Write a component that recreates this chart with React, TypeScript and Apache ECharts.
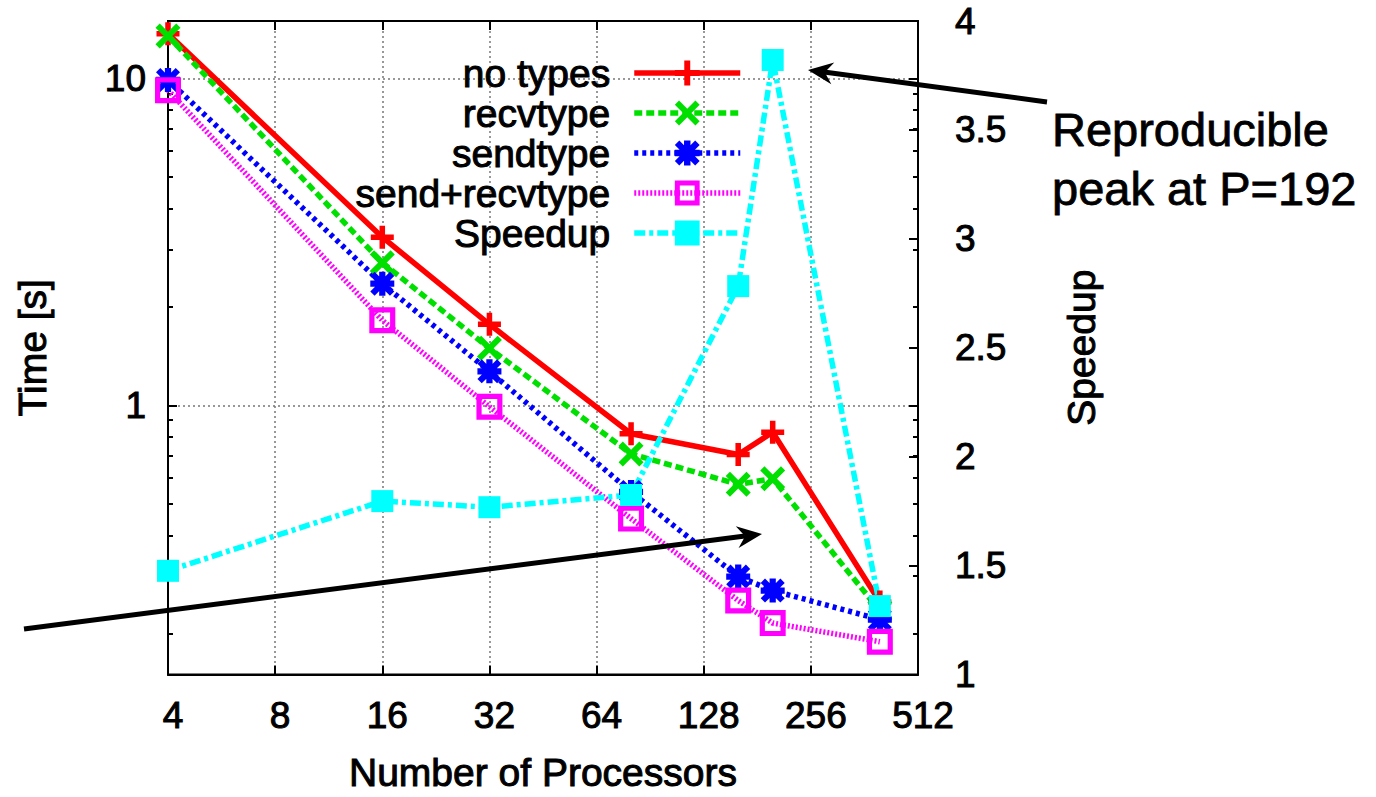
import React, { useEffect, useRef } from "react";
import * as echarts from "echarts";

// ---- data ----
const processors = [4, 16, 32, 80, 160, 200, 400];
const noTypes = [13.7, 3.27, 1.77, 0.818, 0.707, 0.827, 0.25];
const recvType = [13.5, 2.73, 1.495, 0.71, 0.573, 0.596, 0.235];
const sendType = [9.9, 2.355, 1.27, 0.543, 0.299, 0.271, 0.221];
const sendRecvType = [9.21, 1.82, 0.99, 0.45, 0.2526, 0.2155, 0.189];
const speedup = [1.476, 1.796, 1.768, 1.824, 2.783, 3.821, 1.314];

const seriesNames = ["no types", "recvtype", "sendtype", "send+recvtype", "Speedup"];
const timeRange = [0.15, 15];
const timeMajorTicks = [1, 10];
const timeMinorTicks = [0.2, 0.3, 0.4, 0.5, 0.6, 0.7, 0.8, 0.9, 2, 3, 4, 5, 6, 7, 8, 9];
const processorRange = [4, 512];
const speedupRange = [1, 4];
const speedupStep = 0.5;

const FONT = "Liberation Sans";

const SYM_PLUS = "path://M38,0 H62 V38 H100 V62 H62 V100 H38 V62 H0 V38 H38 Z";
const SYM_CROSS =
  "path://M0,17 L17,0 L50,33 L83,0 L100,17 L67,50 L100,83 L83,100 L50,67 L17,100 L0,83 L33,50 Z";
const SYM_STAR =
  "path://M37,0 H63 V37 H100 V63 H63 V100 H37 V63 H0 V37 H37 Z M0,18 L18,0 L50,32 L82,0 L100,18 L68,50 L100,82 L82,100 L50,68 L18,100 L0,82 L32,50 Z";
const SYM_BOX = "path://M0,0 H100 V100 H0 Z M20,20 V80 H80 V20 Z";

const lg = (v: number) => Math.log10(v);

export default function App() {
  const ref = useRef<HTMLDivElement>(null);

  useEffect(() => {
    if (!ref.current) return;
    const chart = echarts.init(ref.current, undefined, { renderer: "svg" });

    const black = { color: "#000", width: 2 };
    const dotted = { color: "#777", width: 1.5, type: [2, 3] as number[] };
    const heavy = { textBorderColor: "#000", textBorderWidth: 1 };
    const LW = 5.5;

    const timeSeries = (
      name: string,
      color: string,
      values: number[],
      symbol: string,
      symbolSize: number,
      dash: any
    ) => ({
      name,
      type: "line",
      xAxisIndex: 0,
      yAxisIndex: 0,
      data: processors.map((p, i) => [p, lg(values[i])]),
      symbol,
      symbolSize,
      showAllSymbol: true,
      clip: false,
      lineStyle: { color, width: LW, type: dash },
      itemStyle: { color, borderWidth: 0 },
      emphasis: { disabled: true },
      silent: true,
    });

    const option: any = {
      animation: false,
      backgroundColor: "#fff",
      textStyle: { fontFamily: FONT },
      grid: {
        left: 168,
        right: 458,
        top: 21,
        bottom: 120,
        show: true,
        borderColor: "#000",
        borderWidth: 2,
        backgroundColor: "transparent",
      },
      legend: {
        orient: "vertical",
        align: "right",
        right: 628,
        top: 48,
        itemWidth: 106,
        itemHeight: 31,
        itemGap: 0,
        selectedMode: false,
        data: seriesNames,
        lineStyle: { width: LW },
        textStyle: {
          fontSize: 39,
          color: "#000",
          fontFamily: FONT,
          lineHeight: 31,
          padding: [0, 19, 0, 0],
          ...heavy,
        },
      },
      xAxis: [
        {
          type: "log",
          logBase: 2,
          min: processorRange[0],
          max: processorRange[1],
          position: "bottom",
          name: "Number of Processors",
          nameLocation: "middle",
          nameGap: 78,
          nameTextStyle: { fontSize: 39, color: "#000", fontFamily: FONT, ...heavy },
          axisLine: { show: true, onZero: false, lineStyle: black },
          axisTick: { show: true, inside: true, length: 9, lineStyle: black },
          axisLabel: {
            fontSize: 37,
            color: "#000",
            fontFamily: FONT,
            margin: 22,
            padding: [0, 0, 0, 10],
            ...heavy,
          },
          splitLine: { show: true, lineStyle: dotted },
        },
        {
          type: "log",
          logBase: 2,
          min: processorRange[0],
          max: processorRange[1],
          position: "top",
          axisLine: { show: true, onZero: false, lineStyle: black },
          axisTick: { show: true, inside: true, length: 9, lineStyle: black },
          axisLabel: { show: false },
          splitLine: { show: false },
        },
      ],
      yAxis: [
        {
          type: "value",
          position: "left",
          min: lg(timeRange[0]),
          max: lg(timeRange[1]),
          name: "Time [s]",
          nameLocation: "middle",
          nameGap: 116,
          nameTextStyle: { fontSize: 39, color: "#000", fontFamily: FONT, ...heavy },
          axisLine: { show: true, onZero: false, lineStyle: black },
          axisTick: {
            show: true,
            inside: true,
            length: 9,
            lineStyle: black,
            customValues: timeMajorTicks.map(lg),
          },
          axisLabel: {
            fontSize: 37,
            color: "#000",
            fontFamily: FONT,
            margin: 22,
            customValues: timeMajorTicks.map(lg),
            formatter: (v: number) => String(Math.round(Math.pow(10, v))),
            ...heavy,
          },
          splitLine: { show: true, lineStyle: dotted },
        },
        {
          type: "value",
          position: "left",
          min: lg(timeRange[0]),
          max: lg(timeRange[1]),
          axisLine: { show: false, onZero: false },
          axisTick: {
            show: true,
            inside: true,
            length: 5,
            lineStyle: black,
            customValues: timeMinorTicks.map(lg),
          },
          axisLabel: { show: false },
          splitLine: { show: false },
        },
        {
          type: "value",
          position: "right",
          min: speedupRange[0],
          max: speedupRange[1],
          interval: speedupStep,
          name: "Speedup",
          nameLocation: "middle",
          nameGap: 144,
          nameTextStyle: { fontSize: 39, color: "#000", fontFamily: FONT, ...heavy },
          axisLine: { show: true, onZero: false, lineStyle: black },
          axisTick: { show: true, inside: true, length: 9, lineStyle: black },
          axisLabel: {
            fontSize: 37,
            color: "#000",
            fontFamily: FONT,
            margin: 37,
            align: "left",
            ...heavy,
          },
          splitLine: { show: false },
        },
        {
          type: "value",
          position: "right",
          min: lg(timeRange[0]),
          max: lg(timeRange[1]),
          axisLine: { show: false, onZero: false },
          axisTick: {
            show: true,
            inside: true,
            length: 9,
            lineStyle: black,
            customValues: timeMajorTicks.map(lg),
          },
          axisLabel: { show: false },
          splitLine: { show: false },
        },
        {
          type: "value",
          position: "right",
          min: lg(timeRange[0]),
          max: lg(timeRange[1]),
          axisLine: { show: false, onZero: false },
          axisTick: {
            show: true,
            inside: true,
            length: 5,
            lineStyle: black,
            customValues: timeMinorTicks.map(lg),
          },
          axisLabel: { show: false },
          splitLine: { show: false },
        },
      ],
      series: [
        timeSeries(seriesNames[0], "#ff0000", noTypes, SYM_PLUS, 23, "solid"),
        timeSeries(seriesNames[1], "#00e000", recvType, SYM_CROSS, 25, [8, 4]),
        timeSeries(seriesNames[2], "#0000ff", sendType, SYM_STAR, 24, [4, 4]),
        timeSeries(seriesNames[3], "#ff00ff", sendRecvType, SYM_BOX, 26, [2, 2]),
        {
          name: seriesNames[4],
          type: "line",
          xAxisIndex: 0,
          yAxisIndex: 2,
          data: processors.map((p, i) => [p, speedup[i]]),
          symbol: "rect",
          symbolSize: 22,
          showAllSymbol: true,
          clip: false,
          lineStyle: { color: "#00ffff", width: LW, type: [11, 4, 4, 4] },
          itemStyle: { color: "#00ffff", borderWidth: 0 },
          emphasis: { disabled: true },
          silent: true,
        },
      ],
      graphic: [
        {
          type: "line",
          z: 100,
          shape: { x1: 1047, y1: 102, x2: 824, y2: 72 },
          style: { stroke: "#000", lineWidth: 5 },
        },
        {
          type: "polygon",
          z: 100,
          shape: { points: [[808, 70], [834.3, 62.4], [824.8, 72.3], [831.3, 84.2]] },
          style: { fill: "#000" },
        },
        {
          type: "line",
          z: 100,
          shape: { x1: 24, y1: 629, x2: 745, y2: 536 },
          style: { stroke: "#000", lineWidth: 5 },
        },
        {
          type: "polygon",
          z: 100,
          shape: { points: [[762, 534], [735.8, 526.3], [745.1, 536.2], [738.6, 548.1]] },
          style: { fill: "#000" },
        },
        {
          type: "text",
          z: 100,
          x: 1052,
          y: 129,
          style: {
            text: "Reproducible",
            fontSize: 47,
            fontFamily: FONT,
            fill: "#000",
            stroke: "#000",
            lineWidth: 0.8,
            align: "left",
            verticalAlign: "middle",
          },
        },
        {
          type: "text",
          z: 100,
          x: 1052,
          y: 188,
          style: {
            text: "peak at P=192",
            fontSize: 47,
            fontFamily: FONT,
            fill: "#000",
            stroke: "#000",
            lineWidth: 0.8,
            align: "left",
            verticalAlign: "middle",
          },
        },
      ],
    };

    chart.setOption(option);
    return () => chart.dispose();
  }, []);

  return (
    <div
      ref={ref}
      style={{ position: "absolute", left: 0, top: 0, width: 1376, height: 797, background: "#fff" }}
    />
  );
}
